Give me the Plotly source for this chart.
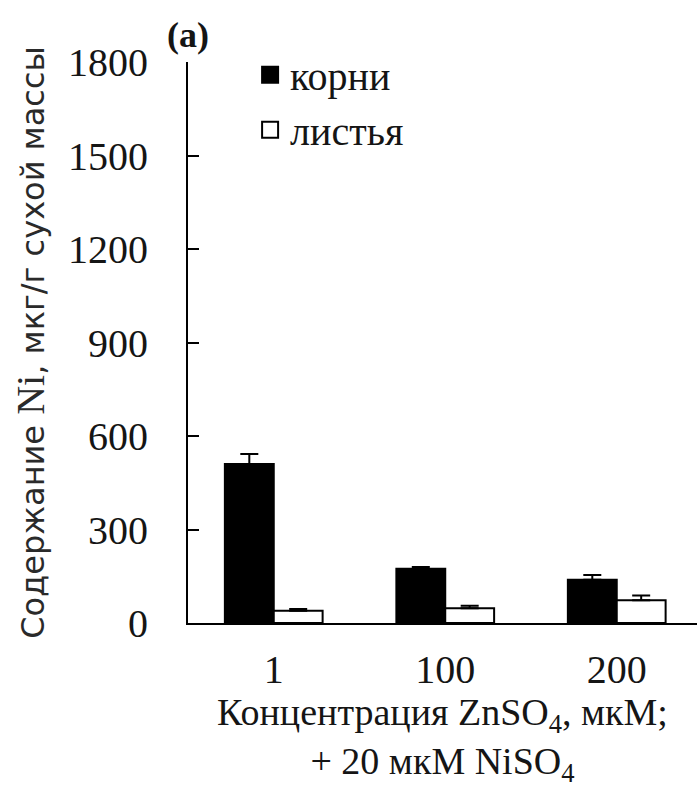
import plotly.graph_objects as go

# ZnSO4 concentration groups (µM), each with 20 µM NiSO4
categories = ["1", "100", "200"]

# Ni content, µg/g dry mass
roots = [510, 174, 139]
roots_err = [32, 6, 15]
leaves = [39, 47, 73]
leaves_err = [6, 8, 15]

yticks = [0, 300, 600, 900, 1200, 1500, 1800]

SERIF = "Liberation Serif"
SANS = "DejaVu Sans"
INK = "#151515"

fig = go.Figure()
fig.add_trace(go.Bar(
    name="корни", x=categories, y=roots, showlegend=False,
    marker=dict(color="black", line=dict(color="black", width=2)),
    error_y=dict(type="data", array=roots_err, symmetric=False,
                 arrayminus=[0] * len(roots_err),
                 color="black", thickness=2, width=9),
))
fig.add_trace(go.Bar(
    name="листья", x=categories, y=leaves, showlegend=False,
    marker=dict(color="white", line=dict(color="black", width=2)),
    error_y=dict(type="data", array=leaves_err, symmetric=False,
                 arrayminus=[0] * len(leaves_err),
                 color="black", thickness=2, width=9),
))

# legend keys with larger square swatches
fig.add_trace(go.Scatter(
    name="корни", x=[None], y=[None], mode="markers",
    marker=dict(symbol="square", size=16, color="black",
                line=dict(color="black", width=2)),
))
fig.add_trace(go.Scatter(
    name="листья", x=[None], y=[None], mode="markers",
    marker=dict(symbol="square", size=16, color="white",
                line=dict(color="black", width=2)),
))

fig.update_layout(
    width=697, height=788,
    margin=dict(l=188, r=0, t=62, b=165),
    paper_bgcolor="white", plot_bgcolor="white",
    barmode="group", bargap=0.43, bargroupgap=0,
    font=dict(family=SERIF, color=INK, size=38),
    showlegend=True,
    legend=dict(x=0.122, y=1.035, xanchor="left", yanchor="top",
                bgcolor="rgba(0,0,0,0)",
                font=dict(size=40, family=SERIF, color=INK),
                itemsizing="trace", tracegroupgap=0),
    xaxis=dict(
        type="category", range=[-0.5, 2.468],
        showline=True, linecolor="black", linewidth=2,
        ticks="", showgrid=False, zeroline=False,
        tickfont=dict(size=40, family=SERIF, color=INK), ticklabelstandoff=10,
        title=dict(text="Концентрация ZnSO<sub>4</sub>, мкМ;<br>+ 20 мкМ NiSO<sub>4</sub>",
                   font=dict(size=38, family=SERIF, color=INK), standoff=6),
    ),
    yaxis=dict(
        range=[0, 1800], tickvals=yticks,
        showline=True, linecolor="black", linewidth=2,
        ticks="inside", ticklen=11, tickwidth=2, tickcolor="black",
        showgrid=False, zeroline=False,
        tickfont=dict(size=40, family=SERIF, color=INK), ticklabelstandoff=30,
        title=dict(
            text=("Содержание <span style=\"font-family:Liberation Serif;font-size:40px\">Ni</span>,"
                  " мкг/г сухой массы"),
            font=dict(size=32, family=SANS, color="#2a2a2a"), standoff=14),
    ),
    annotations=[dict(
        text="<b>(a)</b>", xref="paper", yref="paper",
        x=0.0, y=1.0, xanchor="center", yanchor="bottom", yshift=5,
        showarrow=False, font=dict(size=36, family=SERIF, color=INK),
    )],
)

fig.write_html("out.html")
